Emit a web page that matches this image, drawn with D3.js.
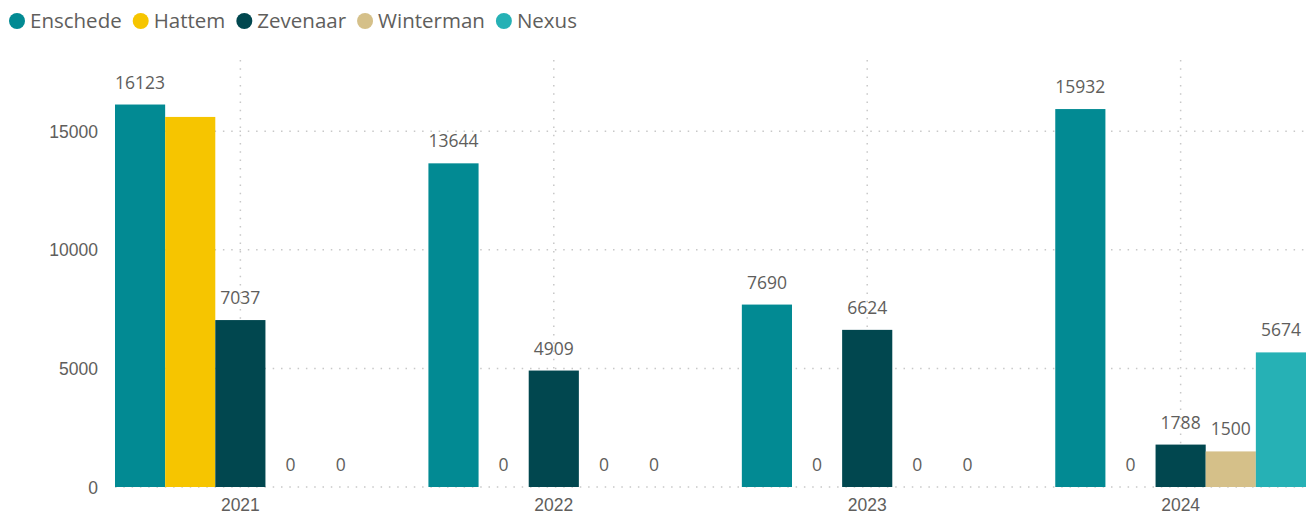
<!DOCTYPE html>
<html>
<head>
<meta charset="utf-8">
<script src="https://cdn.jsdelivr.net/npm/d3@7"></script>
<style>
  body { margin: 0; background: #fff; }
  svg { font-family: "Segoe UI", "Open Sans", "Noto Sans", sans-serif; }
  .tick text, .lbl { fill: #605e5c; font-size: 17.5px; }
  .legend text { fill: #605e5c; font-size: 20.5px; }
</style>
</head>
<body>
<svg id="chart" width="1311" height="515"></svg>
<script>
// data
var years = ["2021", "2022", "2023", "2024"];
var series = ["Enschede", "Hattem", "Zevenaar", "Winterman", "Nexus"];
var enschede  = [16123, 13644, 7690, 15932];
var hattem    = [15600, 0, 0, 0];
var zevenaar  = [7037, 4909, 6624, 1788];
var winterman = [0, 0, 0, 1500];
var nexus     = [0, 0, 0, 5674];
var yTicks = [0, 5000, 10000, 15000];
// labels Power BI dropped because they collide
var hiddenLabels = [["2021", "Hattem"]];

var colors = {
    'Enschede': "#028a93",
    'Hattem': "#f6c500",
    'Zevenaar': "#01474f",
    'Winterman': "#d5c089",
    'Nexus': "#26b1b5"
};

var values = [enschede, hattem, zevenaar, winterman, nexus];
var data = [];
years.forEach((y, i) => {
    series.forEach((s, j) => {
        data.push({year: y, series: s, value: values[j][i]});
    });
});

var svg = d3.select("#chart");
var margin = {top: 60, left: 115, right: 5, bottom: 28};
var width = 1311 - margin.left - margin.right;
var height = 515 - margin.top - margin.bottom;

var g = svg.append("g")
    .attr("transform", "translate(" + margin.left + "," + margin.top + ")");

var xScale = d3.scaleBand()
    .domain(years)
    .range([0, width])
    .paddingInner(0.2)
    .paddingOuter(0);

var x1 = d3.scaleBand()
    .domain(series)
    .range([0, xScale.bandwidth()]);

var yScale = d3.scaleLinear()
    .domain([0, 18000])
    .range([height, 0]);

// dotted gridlines
g.selectAll(".hgrid")
    .data(yTicks)
    .enter().append("line")
    .attr("x1", 0)
    .attr("x2", width)
    .attr("y1", d => yScale(d))
    .attr("y2", d => yScale(d))
    .attr("stroke", "#c8c8c8")
    .attr("stroke-width", 1.5)
    .attr("stroke-dasharray", "1.5,6.8");

g.selectAll(".vgrid")
    .data(years)
    .enter().append("line")
    .attr("x1", d => xScale(d) + xScale.bandwidth() / 2)
    .attr("x2", d => xScale(d) + xScale.bandwidth() / 2)
    .attr("y1", 0)
    .attr("y2", height)
    .attr("stroke", "#c8c8c8")
    .attr("stroke-width", 1.5)
    .attr("stroke-dasharray", "1.5,6.8");

// y axis
var yAxis = g.append("g")
    .attr("transform", "translate(-17,0)")
    .call(d3.axisLeft(yScale).tickValues(yTicks).tickFormat(d3.format("d")).tickSize(0).tickPadding(0));
yAxis.select(".domain").remove();
yAxis.selectAll("text").attr("dy", "0.35em");

// x axis
var xAxis = g.append("g")
    .attr("transform", "translate(0," + height + ")")
    .call(d3.axisBottom(xScale).tickSize(0).tickPadding(12));
xAxis.select(".domain").remove();
xAxis.selectAll("text").attr("dy", "0.71em");

// bars
var groups = g.selectAll(".grp")
    .data(years)
    .enter().append("g")
    .attr("transform", d => "translate(" + xScale(d) + ",0)");

groups.selectAll("rect")
    .data(y => data.filter(d => d.year == y))
    .enter().append("rect")
    .attr("x", d => x1(d.series))
    .attr("width", x1.bandwidth())
    .attr("y", d => yScale(d.value))
    .attr("height", d => height - yScale(d.value))
    .attr("fill", d => colors[d.series]);

groups.selectAll(".lbl")
    .data(y => data.filter(d => d.year == y &&
        !hiddenLabels.some(h => h[0] == d.year && h[1] == d.series)))
    .enter().append("text")
    .attr("class", "lbl")
    .attr("text-anchor", "middle")
    .attr("x", d => x1(d.series) + x1.bandwidth() / 2)
    .attr("y", d => yScale(d.value) - 16)
    .text(d => d.value);

// legend
var legend = svg.append("g").attr("class", "legend")
    .attr("transform", "translate(17,21)");
var lx = 0;
series.forEach(s => {
    var item = legend.append("g").attr("transform", "translate(" + lx + ",0)");
    item.append("circle").attr("r", 8).attr("fill", colors[s]);
    var t = item.append("text")
        .attr("x", 13)
        .attr("dy", "0.35em")
        .text(s);
    lx += 13 + t.node().getComputedTextLength() + 19;
});
</script>
</body>
</html>
